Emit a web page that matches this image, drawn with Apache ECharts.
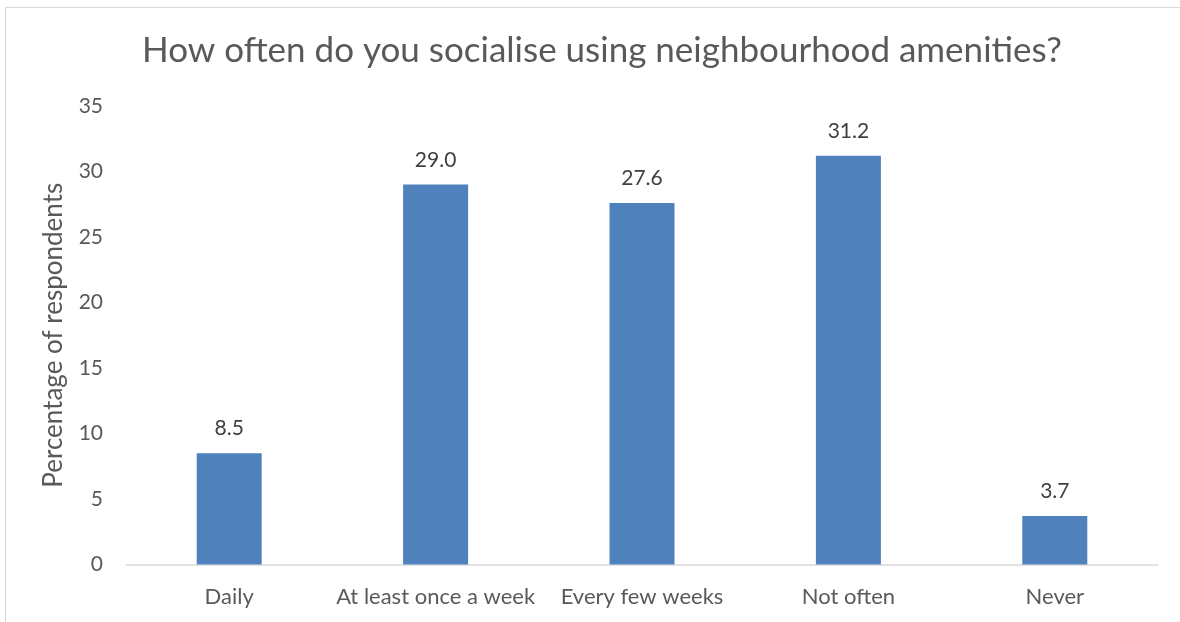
<!DOCTYPE html>
<html>
<head>
<meta charset="utf-8">
<script src="https://cdn.jsdelivr.net/npm/echarts@6/dist/echarts.min.js"></script>
<style>
  html, body { margin: 0; padding: 0; background: #fff; }
  #frame { position: absolute; left: 5px; top: 7px; width: 1200px; height: 700px; border: 1px solid #d9d9d9; box-sizing: border-box; }
  #chart { position: absolute; left: 0; top: 0; width: 1180px; height: 622px; }
</style>
</head>
<body>
<div id="frame"></div>
<div id="chart"></div>
<script>
// Survey answers and their share of respondents (%)
const categories = ['Daily', 'At least once a week', 'Every few weeks', 'Not often', 'Never'];
const percentages = [8.5, 29.0, 27.6, 31.2, 3.7];
const titleText = 'How often do you socialise using neighbourhood amenities?';
const yAxisTitle = 'Percentage of respondents';

const axisColor = '#595959';
const labelColor = '#404040';
const fontFamily = 'Lato, "Open Sans", sans-serif';

const chart = echarts.init(document.getElementById('chart'), null, { renderer: 'canvas' });
chart.setOption({
  animation: false,
  backgroundColor: 'transparent',
  title: {
    text: titleText,
    left: 597,
    textAlign: 'center',
    top: 28,
    textStyle: { color: axisColor, fontSize: 35, fontWeight: 'normal', fontFamily: fontFamily }
  },
  grid: { left: 126, right: 22, top: 106, bottom: 57.5, containLabel: false },
  xAxis: {
    type: 'category',
    data: categories,
    axisLine: { lineStyle: { color: '#d9d9d9', width: 1.5 } },
    axisTick: { show: false },
    axisLabel: { color: axisColor, fontSize: 22, fontFamily: fontFamily, margin: 21, interval: 0 }
  },
  yAxis: {
    type: 'value',
    min: 0,
    max: 35,
    interval: 5,
    name: yAxisTitle,
    nameLocation: 'middle',
    nameGap: 59,
    nameTextStyle: { color: axisColor, fontSize: 26, fontFamily: fontFamily },
    axisLine: { show: false },
    axisTick: { show: false },
    splitLine: { show: false },
    axisLabel: { color: axisColor, fontSize: 21, fontFamily: fontFamily, margin: 23 }
  },
  series: [{
    type: 'bar',
    data: percentages,
    barWidth: 65,
    itemStyle: { color: '#4f81bd' },
    label: {
      show: true,
      position: 'top',
      distance: 14,
      color: labelColor,
      fontSize: 21,
      fontFamily: fontFamily,
      formatter: p => p.value.toFixed(1)
    }
  }]
});
</script>
</body>
</html>
